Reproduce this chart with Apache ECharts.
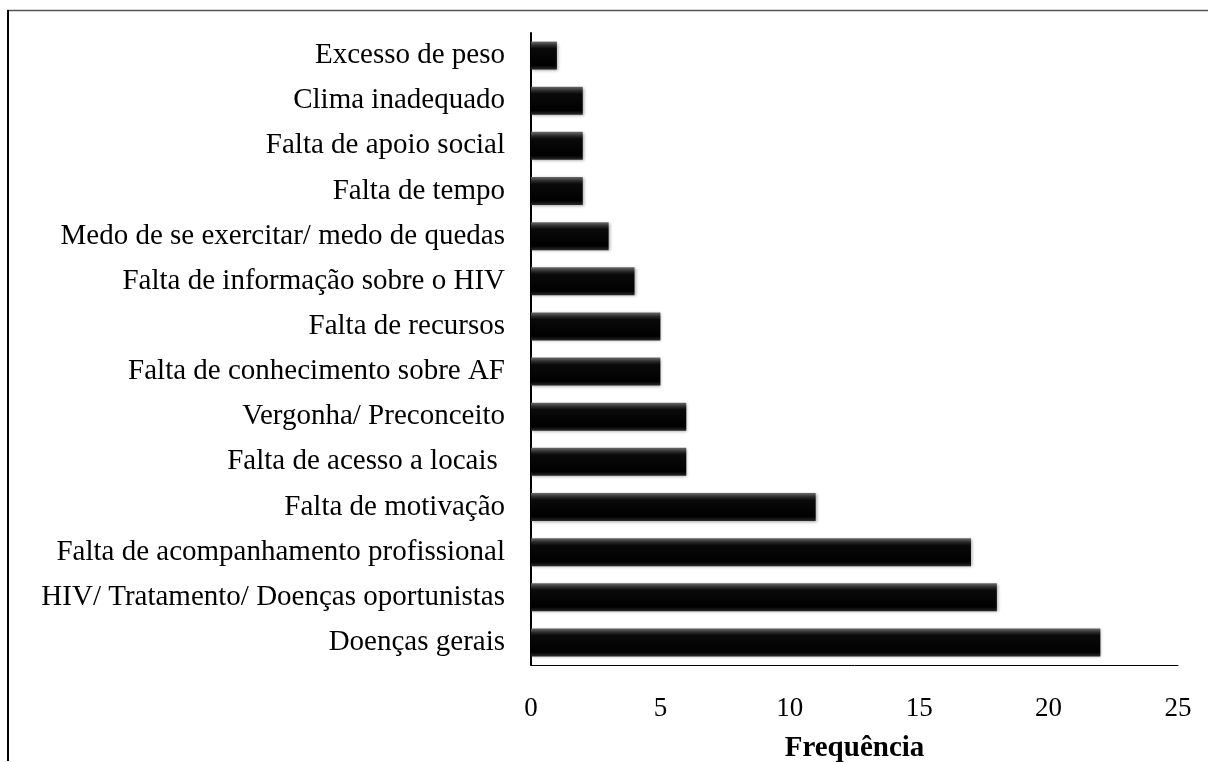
<!DOCTYPE html>
<html>
<head>
<meta charset="utf-8">
<script src="https://cdn.jsdelivr.net/npm/echarts@6/dist/echarts.min.js"></script>
<style>html,body{margin:0;padding:0;background:#fff;}#c{width:1208px;height:762px;}</style>
</head>
<body>
<div id="c"></div>
<script>
const categories = [
  "Excesso de peso",
  "Clima inadequado",
  "Falta de apoio social",
  "Falta de tempo",
  "Medo de se exercitar/ medo de quedas",
  "Falta de informação sobre o HIV",
  "Falta de recursos",
  "Falta de conhecimento sobre AF",
  "Vergonha/ Preconceito",
  "Falta de acesso a locais ",
  "Falta de motivação",
  "Falta de acompanhamento profissional",
  "HIV/ Tratamento/ Doenças oportunistas",
  "Doenças gerais"
];
const frequencia = [1, 2, 2, 2, 3, 4, 5, 5, 6, 6, 11, 17, 18, 22];
const xTicks = [0, 5, 10, 15, 20, 25];

const chart = echarts.init(document.getElementById('c'), null, {renderer: 'canvas'});
const font = '"Liberation Serif", "Times New Roman", serif';
chart.setOption({
  animation: false,
  backgroundColor: '#fff',
  grid: {left: 531, top: 33, right: 30, bottom: 97, containLabel: false, outerBoundsMode: 'none'},
  xAxis: {
    type: 'value', min: xTicks[0], max: xTicks[xTicks.length - 1], interval: 5,
    name: 'Frequência', nameLocation: 'middle', nameGap: 69,
    nameTextStyle: {fontFamily: font, fontSize: 29, fontWeight: 'bold', color: '#000'},
    axisLine: {show: true, lineStyle: {color: '#000', width: 1}},
    axisTick: {show: false},
    splitLine: {show: false},
    axisLabel: {fontFamily: font, fontSize: 27, color: '#000', margin: 30}
  },
  yAxis: {
    type: 'category', data: categories, inverse: true,
    axisLine: {show: true, lineStyle: {color: '#000', width: 2}},
    axisTick: {show: false},
    axisLabel: {fontFamily: font, fontSize: 29, color: '#000', margin: 26, padding: [4, 0, 0, 0]}
  },
  series: [{
    type: 'bar',
    data: frequencia,
    barCategoryGap: '38%',
    itemStyle: {
      color: new echarts.graphic.LinearGradient(0, 0, 0, 1, [
        {offset: 0, color: '#6a6a6a'},
        {offset: 0.14, color: '#2a2a2a'},
        {offset: 0.25, color: '#0a0a0a'},
        {offset: 0.85, color: '#000'},
        {offset: 1, color: '#2a2a2a'}
      ]),
      shadowColor: 'rgba(0,0,0,0.35)', shadowBlur: 3, shadowOffsetX: 1, shadowOffsetY: 1
    }
  }],
  graphic: [
    {type: 'line', shape: {x1: 7, y1: 10.5, x2: 1208, y2: 10.5}, style: {stroke: '#555', lineWidth: 1.5}, silent: true},
    {type: 'line', shape: {x1: 8, y1: 10, x2: 8, y2: 761}, style: {stroke: '#000', lineWidth: 2}, silent: true}
  ]
});
</script>
</body>
</html>
